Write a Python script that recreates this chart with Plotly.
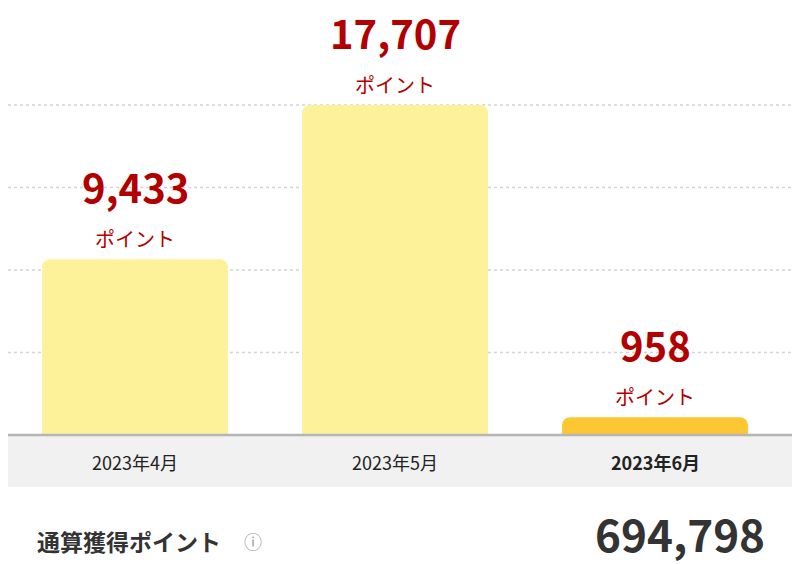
import plotly.graph_objects as go

months = ["2023年4月", "2023年5月", "2023年6月"]
points = [9433, 17707, 958]
total = 694798
bar_colors = ["#fdf29a", "#fdf29a", "#fcc733"]

F = "Noto Sans CJK JP"
W, H, O = 792, 556, 8  # page body margin offset compensation
def px(x): return (x - O) / W
def py(y): return 1 - (y - O) / H

scale = 330 / 17707
ymax = (435 - O) / scale
fig = go.Figure(go.Bar(x=list(range(3)), y=points, marker_color=bar_colors,
                       marker_line_width=0, width=0.715, hoverinfo="skip"))
fig.update_layout(
    width=W, height=H, margin=dict(l=0, r=0, t=0, b=0),
    paper_bgcolor="white", plot_bgcolor="white", showlegend=False,
    barcornerradius=8, font=dict(family=F),
    xaxis=dict(range=[-0.5 + 3 / 260, -0.5 + 3 / 260 + W / 260], visible=False, fixedrange=True),
    yaxis=dict(range=[0, ymax], domain=[py(435), 1], visible=False),
)
shapes = []
for k in range(1, 5):
    v = max(points) * k / 4
    shapes.append(dict(type="line", xref="paper", x0=px(8), x1=px(795), yref="y", y0=v, y1=v,
                       line=dict(color="#d4d4d4", width=1.5, dash="dot"), layer="below"))
shapes.append(dict(type="rect", xref="paper", yref="paper", x0=0, x1=1, y0=py(487), y1=py(436),
                   fillcolor="#f1f1f1", line_width=0, layer="below"))
shapes.append(dict(type="line", xref="paper", yref="paper", x0=0, x1=px(795), y0=py(435), y1=py(435),
                   line=dict(color="#b5b5b5", width=2.5)))
fig.update_layout(shapes=shapes)

for i, (m, v) in enumerate(zip(months, points)):
    fig.add_annotation(x=i, y=v, text=f"{v:,}", showarrow=False, yanchor="middle", yshift=73,
                       font=dict(family=F, size=40, color="#b20000", weight="bold"))
    fig.add_annotation(x=i, y=v, text="ポイント", showarrow=False, yanchor="middle", yshift=21,
                       font=dict(family=F, size=20, color="#b20000"))
    fig.add_annotation(x=i, xref="x", y=py(462), yref="paper", text=m, showarrow=False,
                       yanchor="middle", font=dict(family=F, size=18, color="#222",
                                                   weight="bold" if i == 2 else "normal"))
fig.add_annotation(xref="paper", yref="paper", x=px(35), y=py(541), xanchor="left", yanchor="middle",
                   text="通算獲得ポイント", showarrow=False, font=dict(family=F, size=23, color="#333", weight="bold"))
fig.add_annotation(xref="paper", yref="paper", x=px(253), y=py(541), xanchor="center", yanchor="middle",
                   text="ⓘ", showarrow=False, font=dict(family=F, size=18, color="#999"))
fig.add_annotation(xref="paper", yref="paper", x=px(767), y=py(533), xanchor="right", yanchor="middle",
                   text=f"{total:,}", showarrow=False, font=dict(family=F, size=44, color="#333", weight="bold"))
fig.write_html("out.html")
